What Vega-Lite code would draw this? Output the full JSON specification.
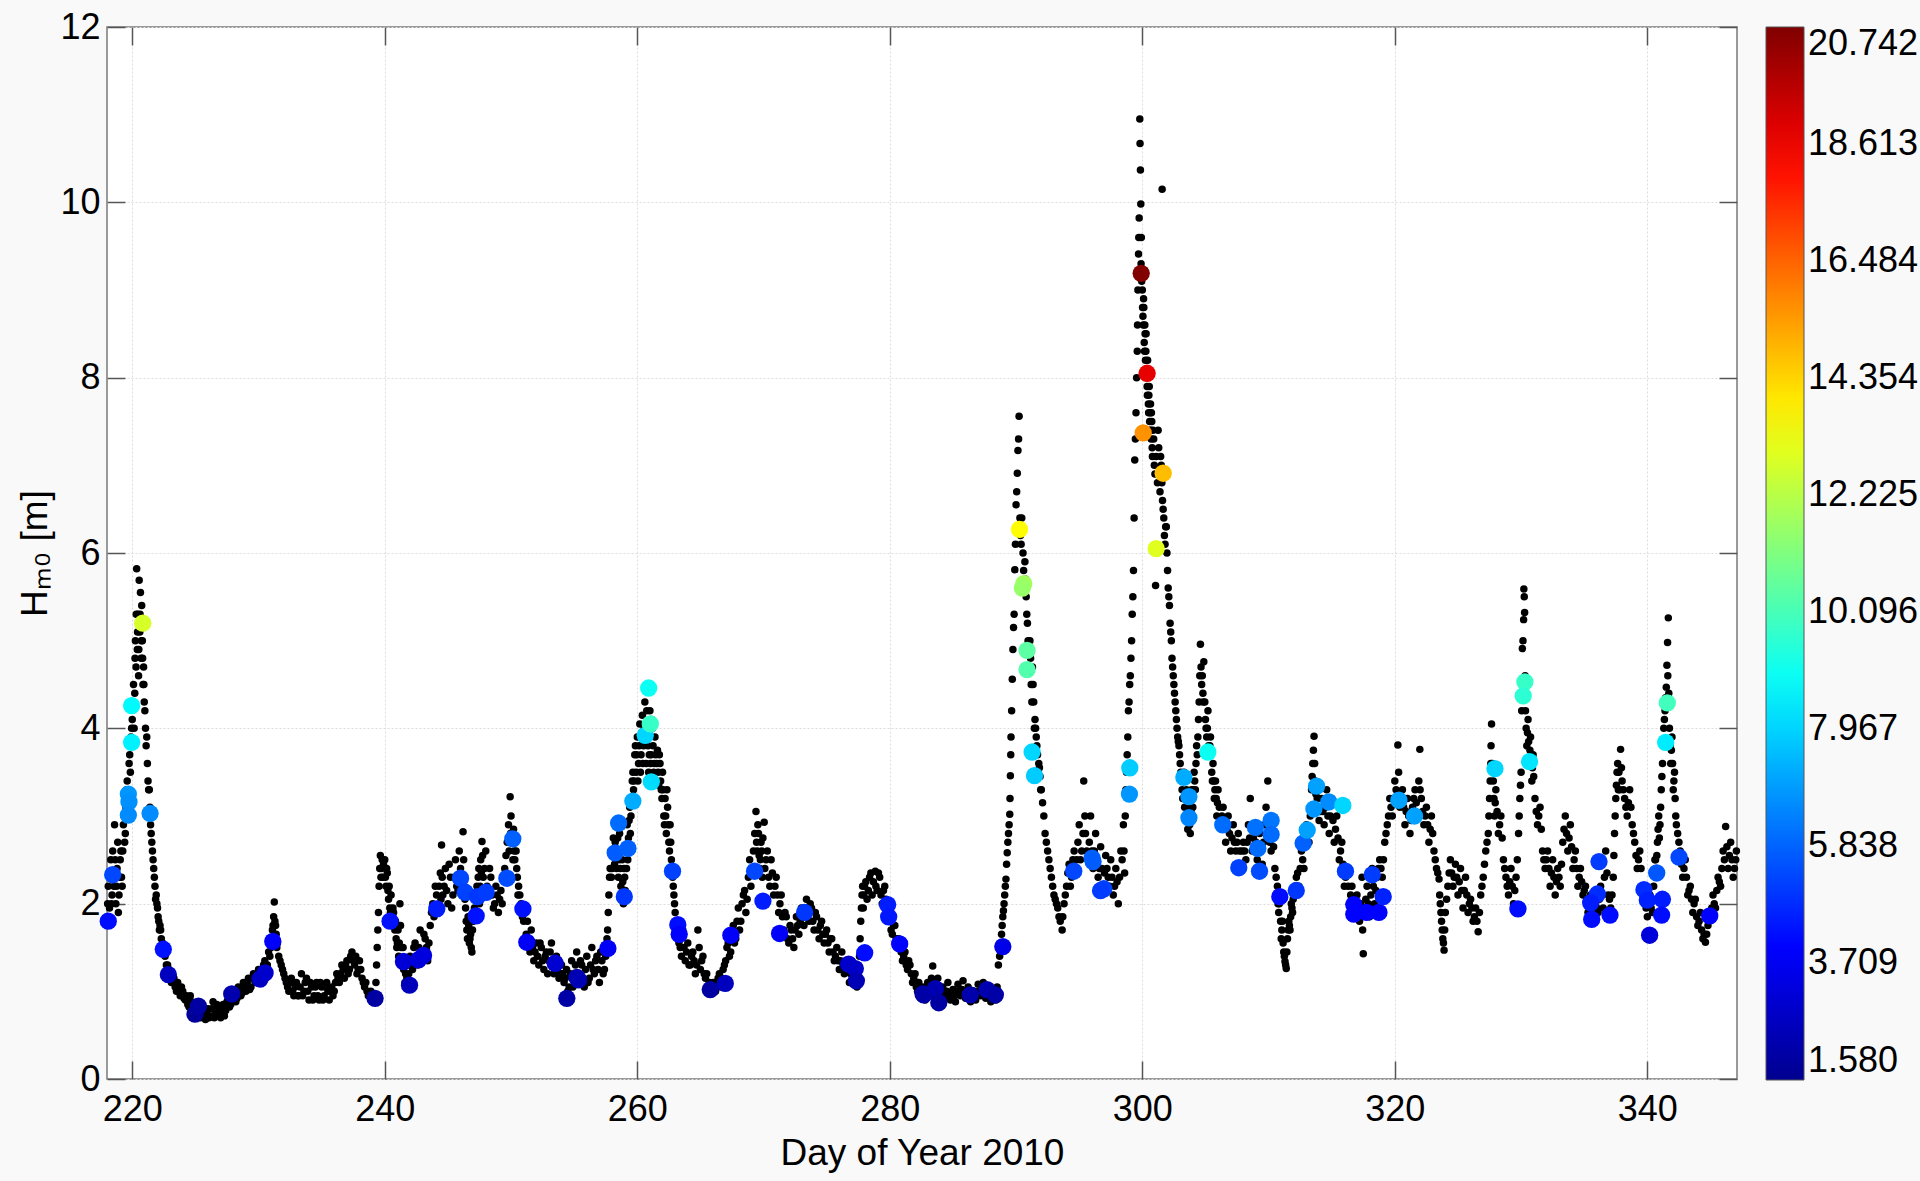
{
"$schema":"https://vega.github.io/schema/vega-lite/v6.json",
"width":1630,"height":1052,
"autosize":{"type":"none"},
"padding":{"left":107,"top":27,"right":183,"bottom":102},
"background":"#f9f9f9",
"config":{"view":{"fill":"white","stroke":"#7a7a7a","strokeWidth":1.5},"font":"Liberation Sans, Arial"},
"datasets":{
"hs":[
{"d":218.0,"h":1.85},{"d":218.1,"h":2.2},{"d":218.2,"h":1.95},{"d":218.3,"h":2.5},{"d":218.4,"h":2.1},{"d":218.5,"h":2.3},{"d":218.6,"h":2.9},{"d":218.7,"h":2.0},{"d":218.8,"h":2.4},{"d":218.9,"h":1.9},{"d":219.0,"h":2.3},{"d":219.1,"h":2.6},{"d":219.2,"h":2.2},{"d":219.3,"h":2.9},{"d":219.4,"h":2.7},{"d":219.5,"h":3.1},{"d":219.6,"h":3.4},{"d":219.7,"h":3.3},{"d":219.8,"h":3.7},{"d":219.9,"h":3.9},{"d":220.0,"h":4.1},{"d":220.1,"h":4.5},{"d":220.2,"h":4.4},{"d":220.25,"h":5.0},{"d":220.3,"h":4.7},{"d":220.35,"h":5.82},{"d":220.4,"h":4.9},{"d":220.45,"h":5.3},{"d":220.5,"h":4.6},{"d":220.55,"h":5.69},{"d":220.6,"h":5.1},{"d":220.65,"h":5.55},{"d":220.7,"h":4.8},{"d":220.75,"h":5.4},{"d":220.8,"h":5.0},{"d":220.85,"h":4.5},{"d":220.9,"h":4.7},{"d":220.95,"h":4.3},{"d":221.0,"h":4.2},{"d":221.1,"h":3.8},{"d":221.2,"h":3.6},{"d":221.3,"h":3.3},{"d":221.4,"h":3.1},{"d":221.5,"h":2.8},{"d":221.6,"h":2.6},{"d":221.7,"h":2.4},{"d":221.8,"h":2.2},{"d":221.9,"h":2.1},{"d":222.0,"h":1.95},{"d":222.1,"h":1.8},{"d":222.2,"h":1.75},{"d":222.3,"h":1.6},{"d":222.4,"h":1.55},{"d":222.6,"h":1.4},{"d":222.8,"h":1.3},{"d":223.0,"h":1.2},{"d":223.2,"h":1.15},{"d":223.4,"h":1.05},{"d":223.6,"h":1.1},{"d":223.8,"h":0.95},{"d":224.0,"h":1.0},{"d":224.2,"h":0.9},{"d":224.4,"h":0.85},{"d":224.6,"h":0.95},{"d":224.8,"h":0.8},{"d":225.0,"h":0.75},{"d":225.2,"h":0.85},{"d":225.4,"h":0.7},{"d":225.6,"h":0.78},{"d":225.8,"h":0.68},{"d":226.0,"h":0.8},{"d":226.2,"h":0.72},{"d":226.4,"h":0.88},{"d":226.6,"h":0.75},{"d":226.8,"h":0.82},{"d":227.0,"h":0.7},{"d":227.2,"h":0.85},{"d":227.4,"h":0.78},{"d":227.6,"h":0.92},{"d":227.8,"h":0.85},{"d":228.0,"h":0.95},{"d":228.2,"h":0.88},{"d":228.4,"h":1.05},{"d":228.6,"h":0.95},{"d":228.8,"h":1.1},{"d":229.0,"h":1.0},{"d":229.2,"h":1.15},{"d":229.4,"h":1.05},{"d":229.6,"h":1.2},{"d":229.8,"h":1.1},{"d":230.0,"h":1.25},{"d":230.2,"h":1.15},{"d":230.4,"h":1.3},{"d":230.6,"h":1.25},{"d":230.8,"h":1.45},{"d":231.0,"h":1.5},{"d":231.1,"h":1.7},{"d":231.2,"h":1.85},{"d":231.25,"h":2.02},{"d":231.3,"h":1.8},{"d":231.4,"h":1.65},{"d":231.5,"h":1.55},{"d":231.6,"h":1.4},{"d":231.8,"h":1.3},{"d":232.0,"h":1.2},{"d":232.2,"h":1.1},{"d":232.4,"h":1.0},{"d":232.6,"h":1.15},{"d":232.8,"h":0.95},{"d":233.0,"h":1.1},{"d":233.2,"h":0.95},{"d":233.4,"h":1.2},{"d":233.6,"h":1.0},{"d":233.8,"h":1.15},{"d":234.0,"h":0.9},{"d":234.2,"h":1.05},{"d":234.4,"h":0.95},{"d":234.6,"h":1.1},{"d":234.8,"h":0.9},{"d":235.0,"h":1.05},{"d":235.2,"h":0.95},{"d":235.4,"h":1.1},{"d":235.6,"h":0.9},{"d":235.8,"h":1.05},{"d":236.0,"h":1.0},{"d":236.2,"h":1.2},{"d":236.4,"h":1.1},{"d":236.6,"h":1.3},{"d":236.8,"h":1.15},{"d":237.0,"h":1.35},{"d":237.2,"h":1.25},{"d":237.4,"h":1.45},{"d":237.6,"h":1.3},{"d":237.8,"h":1.2},{"d":238.0,"h":1.35},{"d":238.2,"h":1.15},{"d":238.4,"h":1.05},{"d":238.6,"h":1.0},{"d":238.8,"h":0.95},{"d":239.0,"h":0.9},{"d":239.2,"h":0.95},{"d":239.35,"h":1.3},{"d":239.45,"h":1.7},{"d":239.55,"h":2.2},{"d":239.65,"h":2.55},{"d":239.75,"h":2.4},{"d":239.85,"h":2.3},{"d":240.0,"h":2.5},{"d":240.1,"h":2.2},{"d":240.2,"h":2.35},{"d":240.3,"h":2.05},{"d":240.4,"h":1.95},{"d":240.5,"h":2.1},{"d":240.6,"h":1.8},{"d":240.7,"h":1.9},{"d":240.8,"h":1.7},{"d":240.9,"h":1.6},{"d":241.0,"h":1.55},{"d":241.1,"h":1.4},{"d":241.2,"h":2.0},{"d":241.3,"h":1.5},{"d":241.4,"h":1.35},{"d":241.5,"h":1.25},{"d":241.6,"h":1.1},{"d":241.7,"h":1.3},{"d":241.8,"h":1.05},{"d":241.9,"h":1.2},{"d":242.0,"h":1.4},{"d":242.2,"h":1.25},{"d":242.4,"h":1.55},{"d":242.6,"h":1.3},{"d":242.8,"h":1.7},{"d":243.0,"h":1.45},{"d":243.2,"h":1.6},{"d":243.4,"h":1.35},{"d":243.6,"h":1.75},{"d":243.8,"h":2.0},{"d":244.0,"h":2.2},{"d":244.2,"h":1.95},{"d":244.4,"h":2.35},{"d":244.5,"h":2.67},{"d":244.6,"h":2.1},{"d":244.8,"h":2.4},{"d":245.0,"h":2.0},{"d":245.2,"h":2.3},{"d":245.4,"h":2.1},{"d":245.6,"h":2.5},{"d":245.8,"h":2.15},{"d":246.0,"h":2.4},{"d":246.2,"h":2.82},{"d":246.3,"h":2.2},{"d":246.4,"h":1.95},{"d":246.5,"h":1.7},{"d":246.6,"h":1.85},{"d":246.7,"h":1.55},{"d":246.8,"h":1.65},{"d":246.9,"h":1.45},{"d":247.0,"h":1.8},{"d":247.2,"h":2.1},{"d":247.4,"h":2.3},{"d":247.5,"h":2.0},{"d":247.6,"h":2.5},{"d":247.7,"h":2.71},{"d":247.8,"h":2.3},{"d":248.0,"h":2.6},{"d":248.2,"h":2.1},{"d":248.4,"h":2.3},{"d":248.6,"h":1.95},{"d":248.8,"h":2.2},{"d":249.0,"h":1.9},{"d":249.2,"h":2.15},{"d":249.4,"h":2.3},{"d":249.6,"h":2.55},{"d":249.8,"h":2.9},{"d":249.93,"h":3.22},{"d":250.0,"h":3.0},{"d":250.1,"h":2.7},{"d":250.2,"h":2.85},{"d":250.3,"h":2.5},{"d":250.4,"h":2.6},{"d":250.5,"h":2.3},{"d":250.6,"h":2.2},{"d":250.8,"h":2.0},{"d":251.0,"h":1.8},{"d":251.2,"h":1.65},{"d":251.4,"h":1.5},{"d":251.6,"h":1.7},{"d":251.8,"h":1.35},{"d":252.0,"h":1.55},{"d":252.2,"h":1.3},{"d":252.4,"h":1.5},{"d":252.6,"h":1.25},{"d":252.8,"h":1.45},{"d":253.0,"h":1.35},{"d":253.2,"h":1.55},{"d":253.4,"h":1.2},{"d":253.6,"h":1.4},{"d":253.8,"h":1.15},{"d":254.0,"h":1.3},{"d":254.2,"h":1.1},{"d":254.4,"h":1.25},{"d":254.6,"h":1.05},{"d":254.8,"h":1.35},{"d":255.0,"h":1.15},{"d":255.2,"h":1.45},{"d":255.4,"h":1.1},{"d":255.6,"h":1.3},{"d":255.8,"h":1.05},{"d":256.0,"h":1.4},{"d":256.2,"h":1.15},{"d":256.4,"h":1.5},{"d":256.6,"h":1.2},{"d":256.8,"h":1.4},{"d":257.0,"h":1.1},{"d":257.2,"h":1.35},{"d":257.4,"h":1.25},{"d":257.6,"h":1.6},{"d":257.7,"h":1.9},{"d":257.8,"h":2.3},{"d":257.9,"h":2.6},{"d":258.0,"h":2.4},{"d":258.1,"h":2.75},{"d":258.2,"h":2.45},{"d":258.3,"h":2.9},{"d":258.4,"h":2.6},{"d":258.5,"h":2.3},{"d":258.6,"h":2.8},{"d":258.7,"h":2.2},{"d":258.8,"h":2.5},{"d":258.9,"h":2.0},{"d":259.0,"h":2.3},{"d":259.1,"h":2.6},{"d":259.2,"h":2.9},{"d":259.3,"h":2.75},{"d":259.4,"h":3.1},{"d":259.5,"h":3.0},{"d":259.6,"h":3.4},{"d":259.7,"h":3.3},{"d":259.8,"h":3.7},{"d":259.9,"h":3.5},{"d":260.0,"h":3.9},{"d":260.1,"h":3.6},{"d":260.2,"h":4.05},{"d":260.3,"h":3.7},{"d":260.4,"h":4.15},{"d":260.5,"h":3.8},{"d":260.6,"h":4.3},{"d":260.7,"h":3.6},{"d":260.8,"h":4.0},{"d":260.9,"h":3.5},{"d":261.0,"h":4.2},{"d":261.1,"h":3.7},{"d":261.2,"h":4.0},{"d":261.3,"h":3.5},{"d":261.4,"h":3.9},{"d":261.5,"h":3.4},{"d":261.6,"h":3.75},{"d":261.7,"h":3.35},{"d":261.8,"h":3.6},{"d":261.9,"h":3.3},{"d":262.0,"h":3.5},{"d":262.1,"h":3.0},{"d":262.2,"h":3.2},{"d":262.3,"h":2.8},{"d":262.4,"h":3.1},{"d":262.5,"h":2.7},{"d":262.6,"h":2.9},{"d":262.7,"h":2.5},{"d":262.8,"h":2.3},{"d":262.9,"h":2.1},{"d":263.0,"h":1.9},{"d":263.1,"h":1.8},{"d":263.2,"h":1.6},{"d":263.4,"h":1.5},{"d":263.6,"h":1.7},{"d":263.8,"h":1.35},{"d":264.0,"h":1.55},{"d":264.2,"h":1.3},{"d":264.4,"h":1.45},{"d":264.6,"h":1.2},{"d":264.8,"h":1.7},{"d":265.0,"h":1.25},{"d":265.2,"h":1.4},{"d":265.4,"h":1.15},{"d":265.6,"h":1.05},{"d":265.8,"h":1.0},{"d":266.0,"h":1.1},{"d":266.2,"h":1.0},{"d":266.4,"h":1.15},{"d":266.6,"h":1.05},{"d":266.8,"h":1.25},{"d":267.0,"h":1.35},{"d":267.2,"h":1.55},{"d":267.4,"h":1.45},{"d":267.6,"h":1.75},{"d":267.8,"h":1.6},{"d":268.0,"h":1.95},{"d":268.2,"h":1.8},{"d":268.4,"h":2.1},{"d":268.6,"h":1.9},{"d":268.8,"h":2.3},{"d":269.0,"h":2.2},{"d":269.2,"h":2.6},{"d":269.4,"h":3.05},{"d":269.5,"h":2.6},{"d":269.6,"h":2.8},{"d":269.7,"h":2.4},{"d":269.8,"h":2.7},{"d":269.9,"h":2.3},{"d":270.05,"h":2.93},{"d":270.2,"h":2.5},{"d":270.4,"h":2.3},{"d":270.6,"h":2.5},{"d":270.8,"h":2.1},{"d":271.0,"h":2.3},{"d":271.2,"h":1.9},{"d":271.4,"h":2.1},{"d":271.6,"h":1.7},{"d":271.8,"h":1.85},{"d":272.0,"h":1.55},{"d":272.2,"h":1.7},{"d":272.4,"h":1.5},{"d":272.6,"h":1.85},{"d":272.8,"h":1.65},{"d":273.0,"h":1.95},{"d":273.2,"h":1.75},{"d":273.4,"h":2.05},{"d":273.6,"h":1.8},{"d":273.8,"h":1.95},{"d":274.0,"h":1.7},{"d":274.2,"h":1.85},{"d":274.4,"h":1.6},{"d":274.6,"h":1.8},{"d":274.8,"h":1.55},{"d":275.0,"h":1.7},{"d":275.2,"h":1.45},{"d":275.4,"h":1.6},{"d":275.6,"h":1.35},{"d":275.8,"h":1.5},{"d":276.0,"h":1.25},{"d":276.2,"h":1.45},{"d":276.4,"h":1.2},{"d":276.6,"h":1.35},{"d":276.8,"h":1.1},{"d":277.0,"h":1.3},{"d":277.2,"h":1.15},{"d":277.4,"h":1.05},{"d":277.6,"h":1.4},{"d":277.7,"h":1.8},{"d":277.8,"h":2.1},{"d":277.9,"h":1.95},{"d":278.0,"h":2.2},{"d":278.2,"h":2.05},{"d":278.4,"h":2.3},{"d":278.6,"h":2.1},{"d":278.85,"h":2.37},{"d":279.0,"h":2.15},{"d":279.2,"h":2.3},{"d":279.4,"h":2.0},{"d":279.6,"h":2.2},{"d":279.8,"h":1.9},{"d":280.0,"h":1.8},{"d":280.2,"h":1.65},{"d":280.4,"h":1.75},{"d":280.6,"h":1.5},{"d":280.8,"h":1.55},{"d":281.0,"h":1.35},{"d":281.2,"h":1.45},{"d":281.4,"h":1.25},{"d":281.6,"h":1.3},{"d":281.8,"h":1.1},{"d":282.0,"h":1.2},{"d":282.2,"h":1.0},{"d":282.4,"h":0.95},{"d":282.6,"h":1.05},{"d":282.8,"h":0.9},{"d":283.0,"h":1.1},{"d":283.2,"h":0.95},{"d":283.4,"h":1.29},{"d":283.6,"h":1.0},{"d":283.8,"h":1.15},{"d":284.0,"h":0.88},{"d":284.2,"h":1.05},{"d":284.4,"h":0.92},{"d":284.6,"h":1.1},{"d":284.8,"h":0.9},{"d":285.0,"h":1.02},{"d":285.2,"h":0.88},{"d":285.4,"h":1.08},{"d":285.6,"h":0.95},{"d":285.8,"h":1.12},{"d":286.0,"h":0.92},{"d":286.2,"h":1.05},{"d":286.4,"h":0.88},{"d":286.6,"h":1.0},{"d":286.8,"h":0.9},{"d":287.0,"h":1.08},{"d":287.2,"h":0.95},{"d":287.4,"h":1.1},{"d":287.6,"h":0.92},{"d":287.8,"h":1.05},{"d":288.0,"h":0.88},{"d":288.2,"h":1.0},{"d":288.4,"h":0.9},{"d":288.6,"h":1.3},{"d":288.8,"h":1.55},{"d":288.9,"h":1.75},{"d":289.0,"h":1.92},{"d":289.1,"h":2.1},{"d":289.2,"h":2.28},{"d":289.3,"h":2.58},{"d":289.4,"h":2.8},{"d":289.5,"h":3.02},{"d":289.55,"h":3.46},{"d":289.6,"h":3.9},{"d":289.7,"h":4.56},{"d":289.8,"h":5.15},{"d":289.85,"h":5.3},{"d":289.9,"h":5.81},{"d":290.0,"h":6.55},{"d":290.1,"h":6.91},{"d":290.15,"h":7.17},{"d":290.24,"h":7.56},{"d":290.3,"h":6.4},{"d":290.4,"h":6.1},{"d":290.5,"h":6.3},{"d":290.6,"h":5.8},{"d":290.7,"h":5.9},{"d":290.8,"h":5.5},{"d":290.9,"h":5.2},{"d":291.0,"h":4.9},{"d":291.1,"h":5.0},{"d":291.2,"h":4.5},{"d":291.3,"h":4.7},{"d":291.4,"h":4.3},{"d":291.5,"h":4.1},{"d":291.6,"h":3.9},{"d":291.7,"h":3.7},{"d":291.8,"h":3.6},{"d":291.9,"h":3.45},{"d":292.0,"h":3.3},{"d":292.2,"h":3.0},{"d":292.4,"h":2.7},{"d":292.6,"h":2.5},{"d":292.8,"h":2.3},{"d":293.0,"h":2.1},{"d":293.2,"h":2.0},{"d":293.4,"h":1.85},{"d":293.65,"h":1.7},{"d":293.8,"h":2.0},{"d":294.0,"h":2.2},{"d":294.2,"h":2.45},{"d":294.4,"h":2.3},{"d":294.6,"h":2.6},{"d":294.8,"h":2.5},{"d":295.0,"h":2.9},{"d":295.2,"h":2.6},{"d":295.36,"h":3.4},{"d":295.5,"h":2.8},{"d":295.7,"h":2.5},{"d":295.9,"h":3.0},{"d":296.1,"h":2.4},{"d":296.3,"h":2.8},{"d":296.5,"h":2.3},{"d":296.7,"h":2.65},{"d":296.9,"h":2.2},{"d":297.1,"h":2.55},{"d":297.3,"h":2.3},{"d":297.5,"h":2.5},{"d":297.7,"h":2.1},{"d":297.9,"h":2.4},{"d":298.1,"h":2.0},{"d":298.3,"h":2.6},{"d":298.5,"h":2.9},{"d":298.6,"h":2.35},{"d":298.7,"h":3.3},{"d":298.8,"h":3.7},{"d":298.9,"h":4.2},{"d":299.0,"h":4.5},{"d":299.1,"h":4.8},{"d":299.2,"h":5.3},{"d":299.3,"h":5.8},{"d":299.35,"h":6.4},{"d":299.4,"h":7.06},{"d":299.5,"h":7.6},{"d":299.6,"h":8.3},{"d":299.65,"h":9.0},{"d":299.7,"h":9.41},{"d":299.75,"h":9.82},{"d":299.8,"h":10.95},{"d":299.82,"h":10.67},{"d":299.85,"h":10.37},{"d":299.88,"h":9.98},{"d":299.92,"h":9.6},{"d":300.0,"h":9.0},{"d":300.05,"h":8.7},{"d":300.1,"h":8.9},{"d":300.15,"h":8.4},{"d":300.2,"h":8.6},{"d":300.25,"h":8.2},{"d":300.3,"h":8.5},{"d":300.35,"h":8.0},{"d":300.4,"h":7.8},{"d":300.45,"h":8.1},{"d":300.5,"h":7.6},{"d":300.55,"h":7.9},{"d":300.6,"h":7.4},{"d":300.65,"h":7.7},{"d":300.7,"h":7.3},{"d":300.75,"h":7.5},{"d":300.8,"h":7.1},{"d":300.9,"h":7.3},{"d":301.0,"h":6.9},{"d":301.05,"h":5.63},{"d":301.1,"h":7.1},{"d":301.2,"h":6.8},{"d":301.3,"h":7.2},{"d":301.4,"h":6.7},{"d":301.5,"h":7.0},{"d":301.57,"h":10.15},{"d":301.6,"h":6.6},{"d":301.7,"h":6.4},{"d":301.8,"h":6.1},{"d":301.9,"h":6.3},{"d":302.0,"h":5.8},{"d":302.1,"h":5.5},{"d":302.2,"h":5.2},{"d":302.3,"h":5.0},{"d":302.4,"h":4.7},{"d":302.5,"h":4.5},{"d":302.6,"h":4.3},{"d":302.7,"h":4.1},{"d":302.8,"h":3.9},{"d":302.9,"h":3.8},{"d":303.0,"h":3.6},{"d":303.1,"h":3.4},{"d":303.2,"h":3.2},{"d":303.3,"h":3.5},{"d":303.4,"h":3.0},{"d":303.5,"h":3.3},{"d":303.6,"h":2.85},{"d":303.7,"h":3.1},{"d":303.8,"h":2.8},{"d":303.9,"h":3.3},{"d":304.0,"h":3.1},{"d":304.1,"h":3.5},{"d":304.2,"h":3.3},{"d":304.3,"h":3.8},{"d":304.4,"h":3.9},{"d":304.5,"h":4.3},{"d":304.6,"h":4.96},{"d":304.7,"h":4.5},{"d":304.8,"h":4.4},{"d":304.87,"h":4.76},{"d":305.0,"h":4.1},{"d":305.1,"h":3.9},{"d":305.2,"h":4.2},{"d":305.3,"h":3.7},{"d":305.4,"h":3.9},{"d":305.5,"h":3.5},{"d":305.6,"h":3.6},{"d":305.7,"h":3.2},{"d":305.8,"h":3.4},{"d":305.9,"h":3.0},{"d":306.0,"h":3.3},{"d":306.2,"h":2.9},{"d":306.4,"h":3.1},{"d":306.6,"h":2.7},{"d":306.8,"h":3.0},{"d":307.0,"h":2.6},{"d":307.2,"h":2.9},{"d":307.4,"h":2.6},{"d":307.6,"h":2.8},{"d":307.8,"h":2.45},{"d":308.0,"h":2.7},{"d":308.2,"h":2.5},{"d":308.4,"h":2.9},{"d":308.55,"h":3.2},{"d":308.7,"h":2.6},{"d":308.9,"h":2.9},{"d":309.1,"h":2.5},{"d":309.3,"h":2.8},{"d":309.5,"h":2.45},{"d":309.7,"h":2.9},{"d":309.94,"h":3.4},{"d":310.1,"h":2.7},{"d":310.3,"h":2.9},{"d":310.5,"h":2.4},{"d":310.7,"h":2.2},{"d":310.8,"h":1.9},{"d":310.9,"h":2.1},{"d":311.0,"h":1.6},{"d":311.1,"h":1.8},{"d":311.2,"h":1.45},{"d":311.3,"h":1.34},{"d":311.4,"h":1.26},{"d":311.5,"h":1.6},{"d":311.6,"h":1.8},{"d":311.7,"h":1.7},{"d":311.8,"h":2.0},{"d":311.9,"h":1.9},{"d":312.0,"h":2.15},{"d":312.2,"h":2.3},{"d":312.4,"h":2.2},{"d":312.6,"h":2.6},{"d":312.8,"h":2.4},{"d":313.0,"h":2.9},{"d":313.2,"h":2.7},{"d":313.4,"h":3.3},{"d":313.5,"h":3.6},{"d":313.6,"h":3.91},{"d":313.7,"h":3.4},{"d":313.8,"h":3.1},{"d":313.9,"h":3.3},{"d":314.0,"h":2.95},{"d":314.2,"h":3.2},{"d":314.4,"h":2.9},{"d":314.6,"h":3.3},{"d":314.8,"h":2.8},{"d":315.0,"h":3.2},{"d":315.2,"h":2.7},{"d":315.4,"h":3.0},{"d":315.6,"h":2.5},{"d":315.8,"h":2.7},{"d":316.0,"h":2.2},{"d":316.2,"h":2.4},{"d":316.4,"h":2.0},{"d":316.6,"h":2.2},{"d":316.8,"h":1.85},{"d":317.0,"h":2.1},{"d":317.2,"h":1.8},{"d":317.4,"h":2.3},{"d":317.5,"h":1.43},{"d":317.6,"h":1.95},{"d":317.8,"h":2.2},{"d":318.0,"h":1.85},{"d":318.2,"h":2.4},{"d":318.4,"h":2.0},{"d":318.6,"h":2.3},{"d":318.8,"h":2.5},{"d":319.0,"h":2.3},{"d":319.2,"h":2.7},{"d":319.4,"h":2.9},{"d":319.6,"h":3.2},{"d":319.8,"h":3.0},{"d":320.0,"h":3.4},{"d":320.24,"h":3.81},{"d":320.4,"h":3.1},{"d":320.6,"h":3.3},{"d":320.8,"h":2.9},{"d":321.0,"h":3.2},{"d":321.2,"h":2.8},{"d":321.4,"h":3.1},{"d":321.6,"h":3.3},{"d":321.8,"h":3.0},{"d":321.98,"h":3.76},{"d":322.1,"h":3.2},{"d":322.3,"h":2.9},{"d":322.5,"h":3.1},{"d":322.7,"h":2.7},{"d":322.9,"h":3.0},{"d":323.1,"h":2.6},{"d":323.3,"h":2.4},{"d":323.5,"h":2.28},{"d":323.6,"h":2.0},{"d":323.7,"h":1.8},{"d":323.8,"h":1.6},{"d":323.9,"h":1.47},{"d":324.0,"h":1.9},{"d":324.2,"h":2.2},{"d":324.4,"h":2.5},{"d":324.6,"h":2.2},{"d":324.8,"h":2.45},{"d":325.0,"h":2.1},{"d":325.2,"h":2.4},{"d":325.4,"h":1.95},{"d":325.6,"h":2.3},{"d":325.8,"h":1.9},{"d":326.0,"h":2.05},{"d":326.2,"h":1.8},{"d":326.4,"h":1.95},{"d":326.6,"h":1.68},{"d":326.8,"h":2.1},{"d":327.0,"h":2.3},{"d":327.2,"h":2.6},{"d":327.4,"h":2.8},{"d":327.5,"h":3.2},{"d":327.6,"h":3.6},{"d":327.66,"h":4.05},{"d":327.8,"h":3.4},{"d":327.9,"h":3.0},{"d":328.0,"h":3.3},{"d":328.2,"h":2.8},{"d":328.4,"h":3.0},{"d":328.6,"h":2.5},{"d":328.8,"h":2.3},{"d":329.0,"h":2.1},{"d":329.2,"h":2.4},{"d":329.4,"h":2.0},{"d":329.6,"h":2.3},{"d":329.8,"h":2.8},{"d":329.9,"h":3.2},{"d":330.0,"h":3.5},{"d":330.1,"h":4.91},{"d":330.2,"h":5.24},{"d":330.22,"h":5.59},{"d":330.25,"h":5.5},{"d":330.28,"h":5.32},{"d":330.35,"h":4.2},{"d":330.45,"h":3.8},{"d":330.55,"h":4.1},{"d":330.65,"h":3.6},{"d":330.75,"h":3.9},{"d":330.85,"h":3.4},{"d":330.95,"h":3.7},{"d":331.1,"h":3.2},{"d":331.3,"h":2.9},{"d":331.5,"h":3.1},{"d":331.7,"h":2.6},{"d":331.9,"h":2.4},{"d":332.1,"h":2.6},{"d":332.3,"h":2.2},{"d":332.5,"h":2.5},{"d":332.7,"h":2.1},{"d":332.9,"h":2.4},{"d":333.1,"h":2.2},{"d":333.3,"h":2.7},{"d":333.5,"h":3.0},{"d":333.7,"h":2.6},{"d":333.9,"h":2.9},{"d":334.1,"h":2.4},{"d":334.3,"h":2.6},{"d":334.5,"h":2.2},{"d":334.7,"h":2.4},{"d":334.9,"h":2.1},{"d":335.1,"h":2.2},{"d":335.3,"h":1.9},{"d":335.5,"h":2.1},{"d":335.7,"h":1.85},{"d":335.9,"h":2.0},{"d":336.1,"h":1.9},{"d":336.3,"h":2.2},{"d":336.5,"h":1.95},{"d":336.7,"h":2.6},{"d":336.9,"h":2.1},{"d":337.1,"h":1.95},{"d":337.3,"h":2.3},{"d":337.4,"h":2.8},{"d":337.5,"h":3.2},{"d":337.6,"h":3.5},{"d":337.7,"h":3.3},{"d":337.88,"h":3.76},{"d":338.0,"h":3.4},{"d":338.2,"h":3.2},{"d":338.4,"h":3.0},{"d":338.6,"h":3.3},{"d":338.8,"h":2.9},{"d":339.0,"h":2.7},{"d":339.2,"h":2.4},{"d":339.4,"h":2.6},{"d":339.6,"h":2.2},{"d":339.8,"h":2.0},{"d":340.0,"h":1.85},{"d":340.2,"h":2.1},{"d":340.4,"h":1.9},{"d":340.6,"h":2.5},{"d":340.7,"h":2.4},{"d":340.8,"h":2.7},{"d":340.9,"h":3.0},{"d":341.0,"h":2.9},{"d":341.1,"h":3.3},{"d":341.2,"h":3.6},{"d":341.3,"h":4.0},{"d":341.4,"h":4.2},{"d":341.5,"h":4.47},{"d":341.55,"h":4.72},{"d":341.6,"h":4.98},{"d":341.66,"h":5.26},{"d":341.75,"h":4.0},{"d":341.85,"h":3.6},{"d":341.95,"h":3.9},{"d":342.05,"h":3.3},{"d":342.15,"h":3.5},{"d":342.25,"h":3.0},{"d":342.4,"h":2.8},{"d":342.6,"h":2.6},{"d":342.8,"h":2.3},{"d":343.0,"h":2.5},{"d":343.2,"h":2.1},{"d":343.4,"h":2.2},{"d":343.6,"h":1.9},{"d":343.8,"h":2.05},{"d":344.0,"h":1.75},{"d":344.2,"h":1.9},{"d":344.4,"h":1.6},{"d":344.6,"h":1.56},{"d":344.8,"h":1.75},{"d":345.0,"h":1.9},{"d":345.2,"h":2.1},{"d":345.4,"h":1.95},{"d":345.6,"h":2.3},{"d":345.8,"h":2.2},{"d":346.0,"h":2.6},{"d":346.2,"h":2.88},{"d":346.4,"h":2.4},{"d":346.6,"h":2.7},{"d":346.8,"h":2.3},{"d":347.0,"h":2.5},
{"d":218.05,"h":2.0},{"d":218.15,"h":1.8},{"d":218.25,"h":2.3},{"d":218.35,"h":2.0},{"d":218.45,"h":2.6},{"d":218.55,"h":2.2},{"d":218.65,"h":2.5},{"d":218.75,"h":2.2},{"d":218.85,"h":2.7},{"d":218.95,"h":2.1},{"d":219.05,"h":2.5},{"d":219.15,"h":2.3},{"d":219.25,"h":2.6},{"d":219.35,"h":3.0},{"d":219.45,"h":2.8},{"d":219.55,"h":3.3},{"d":219.65,"h":3.0},{"d":219.75,"h":3.6},{"d":219.85,"h":3.5},{"d":219.95,"h":4.0},{"d":220.05,"h":4.3},{"d":220.15,"h":4.0},{"d":220.22,"h":4.8},{"d":220.32,"h":5.3},{"d":220.42,"h":5.1},{"d":220.52,"h":4.9},{"d":220.62,"h":5.3},{"d":220.72,"h":5.0},{"d":220.82,"h":4.8},{"d":220.92,"h":4.5},{"d":221.05,"h":4.0},{"d":221.15,"h":3.9},{"d":221.25,"h":3.4},{"d":221.35,"h":3.3},{"d":221.45,"h":2.9},{"d":221.55,"h":2.7},{"d":221.65,"h":2.5},{"d":221.75,"h":2.3},{"d":221.85,"h":2.05},{"d":221.95,"h":2.0},{"d":222.05,"h":1.85},{"d":222.15,"h":1.7},{"d":222.25,"h":1.7},{"d":222.35,"h":1.5},{"d":222.5,"h":1.5},{"d":222.7,"h":1.3},{"d":222.9,"h":1.25},{"d":223.1,"h":1.1},{"d":223.3,"h":1.15},{"d":223.5,"h":1.0},{"d":223.7,"h":1.0},{"d":223.9,"h":1.05},{"d":224.1,"h":0.92},{"d":224.3,"h":0.95},{"d":224.5,"h":0.82},{"d":224.7,"h":0.88},{"d":224.9,"h":0.78},{"d":225.1,"h":0.8},{"d":225.3,"h":0.72},{"d":225.5,"h":0.82},{"d":225.7,"h":0.72},{"d":225.9,"h":0.75},{"d":226.1,"h":0.7},{"d":226.3,"h":0.8},{"d":226.5,"h":0.7},{"d":226.7,"h":0.85},{"d":226.9,"h":0.76},{"d":227.1,"h":0.8},{"d":227.3,"h":0.72},{"d":227.5,"h":0.88},{"d":227.7,"h":0.82},{"d":227.9,"h":0.9},{"d":228.1,"h":0.98},{"d":228.3,"h":0.92},{"d":228.5,"h":1.0},{"d":228.7,"h":0.98},{"d":228.9,"h":1.05},{"d":229.1,"h":1.1},{"d":229.3,"h":1.02},{"d":229.5,"h":1.15},{"d":229.7,"h":1.12},{"d":229.9,"h":1.2},{"d":230.1,"h":1.18},{"d":230.3,"h":1.25},{"d":230.5,"h":1.35},{"d":230.7,"h":1.3},{"d":230.9,"h":1.4},{"d":231.05,"h":1.6},{"d":231.15,"h":1.75},{"d":231.35,"h":1.75},{"d":231.45,"h":1.5},{"d":231.7,"h":1.35},{"d":231.9,"h":1.25},{"d":232.1,"h":1.15},{"d":232.3,"h":1.05},{"d":232.5,"h":1.1},{"d":232.7,"h":1.0},{"d":232.9,"h":1.05},{"d":233.1,"h":0.95},{"d":233.3,"h":1.05},{"d":233.5,"h":0.95},{"d":233.7,"h":1.1},{"d":233.9,"h":1.0},{"d":234.1,"h":1.1},{"d":234.3,"h":0.9},{"d":234.5,"h":1.05},{"d":234.7,"h":0.95},{"d":234.9,"h":1.1},{"d":235.1,"h":0.9},{"d":235.3,"h":1.05},{"d":235.5,"h":1.0},{"d":235.7,"h":1.0},{"d":235.9,"h":0.95},{"d":236.1,"h":1.1},{"d":236.3,"h":1.15},{"d":236.5,"h":1.2},{"d":236.7,"h":1.25},{"d":236.9,"h":1.3},{"d":237.1,"h":1.2},{"d":237.3,"h":1.4},{"d":237.5,"h":1.35},{"d":237.7,"h":1.4},{"d":237.9,"h":1.25},{"d":238.1,"h":1.25},{"d":238.3,"h":1.1},{"d":238.5,"h":1.1},{"d":238.7,"h":0.95},{"d":238.9,"h":1.0},{"d":239.1,"h":0.88},{"d":239.3,"h":1.1},{"d":239.4,"h":1.5},{"d":239.5,"h":1.9},{"d":239.6,"h":2.4},{"d":239.7,"h":2.3},{"d":239.8,"h":2.5},{"d":239.9,"h":2.45},{"d":240.05,"h":2.3},{"d":240.15,"h":2.4},{"d":240.25,"h":2.15},{"d":240.35,"h":2.2},{"d":240.45,"h":1.9},{"d":240.55,"h":1.85},{"d":240.65,"h":1.95},{"d":240.75,"h":1.75},{"d":240.85,"h":1.8},{"d":240.95,"h":1.5},{"d":241.05,"h":1.7},{"d":241.15,"h":1.55},{"d":241.25,"h":1.75},{"d":241.35,"h":1.3},{"d":241.45,"h":1.5},{"d":241.55,"h":1.35},{"d":241.65,"h":1.2},{"d":241.75,"h":1.15},{"d":241.85,"h":1.3},{"d":241.95,"h":1.1},{"d":242.1,"h":1.3},{"d":242.3,"h":1.5},{"d":242.5,"h":1.35},{"d":242.7,"h":1.5},{"d":242.9,"h":1.4},{"d":243.1,"h":1.65},{"d":243.3,"h":1.5},{"d":243.5,"h":1.55},{"d":243.7,"h":1.9},{"d":243.9,"h":1.85},{"d":244.1,"h":2.1},{"d":244.3,"h":2.2},{"d":244.45,"h":2.05},{"d":244.55,"h":2.3},{"d":244.7,"h":2.2},{"d":244.9,"h":2.15},{"d":245.1,"h":2.45},{"d":245.3,"h":1.95},{"d":245.5,"h":2.3},{"d":245.7,"h":2.2},{"d":245.9,"h":2.6},{"d":246.1,"h":2.2},{"d":246.25,"h":2.5},{"d":246.35,"h":2.05},{"d":246.45,"h":1.8},{"d":246.55,"h":1.6},{"d":246.65,"h":1.75},{"d":246.75,"h":1.6},{"d":246.85,"h":1.5},{"d":246.95,"h":1.7},{"d":247.1,"h":1.95},{"d":247.3,"h":2.2},{"d":247.45,"h":2.4},{"d":247.55,"h":2.2},{"d":247.65,"h":2.35},{"d":247.75,"h":2.55},{"d":247.9,"h":2.4},{"d":248.1,"h":2.2},{"d":248.3,"h":2.4},{"d":248.5,"h":2.1},{"d":248.7,"h":2.0},{"d":248.9,"h":2.1},{"d":249.1,"h":2.05},{"d":249.3,"h":2.0},{"d":249.5,"h":2.4},{"d":249.7,"h":2.7},{"d":249.85,"h":2.6},{"d":249.97,"h":2.8},{"d":250.05,"h":2.8},{"d":250.15,"h":2.5},{"d":250.25,"h":2.6},{"d":250.35,"h":2.7},{"d":250.45,"h":2.4},{"d":250.55,"h":2.1},{"d":250.7,"h":2.1},{"d":250.9,"h":1.85},{"d":251.1,"h":1.6},{"d":251.3,"h":1.8},{"d":251.5,"h":1.45},{"d":251.7,"h":1.5},{"d":251.9,"h":1.45},{"d":252.1,"h":1.4},{"d":252.3,"h":1.55},{"d":252.5,"h":1.35},{"d":252.7,"h":1.4},{"d":252.9,"h":1.2},{"d":253.1,"h":1.45},{"d":253.3,"h":1.3},{"d":253.5,"h":1.25},{"d":253.7,"h":1.3},{"d":253.9,"h":1.2},{"d":254.1,"h":1.2},{"d":254.3,"h":1.15},{"d":254.5,"h":1.0},{"d":254.7,"h":1.2},{"d":254.9,"h":1.05},{"d":255.1,"h":1.3},{"d":255.3,"h":1.2},{"d":255.5,"h":1.35},{"d":255.7,"h":1.15},{"d":255.9,"h":1.25},{"d":256.1,"h":1.1},{"d":256.3,"h":1.3},{"d":256.5,"h":1.25},{"d":256.7,"h":1.35},{"d":256.9,"h":1.25},{"d":257.1,"h":1.45},{"d":257.3,"h":1.2},{"d":257.5,"h":1.4},{"d":257.65,"h":1.7},{"d":257.75,"h":2.1},{"d":257.85,"h":2.4},{"d":257.95,"h":2.3},{"d":258.05,"h":2.55},{"d":258.15,"h":2.6},{"d":258.25,"h":2.7},{"d":258.35,"h":2.4},{"d":258.45,"h":2.75},{"d":258.55,"h":2.5},{"d":258.65,"h":2.4},{"d":258.75,"h":2.6},{"d":258.85,"h":2.25},{"d":258.95,"h":2.4},{"d":259.05,"h":2.15},{"d":259.15,"h":2.4},{"d":259.25,"h":2.5},{"d":259.35,"h":2.95},{"d":259.45,"h":2.8},{"d":259.55,"h":3.2},{"d":259.65,"h":3.5},{"d":259.75,"h":3.4},{"d":259.85,"h":3.8},{"d":259.95,"h":3.7},{"d":260.05,"h":3.4},{"d":260.15,"h":3.8},{"d":260.25,"h":3.5},{"d":260.35,"h":3.95},{"d":260.45,"h":3.6},{"d":260.55,"h":4.0},{"d":260.65,"h":3.9},{"d":260.75,"h":4.2},{"d":260.85,"h":3.8},{"d":260.95,"h":3.7},{"d":261.05,"h":3.6},{"d":261.15,"h":4.1},{"d":261.25,"h":3.8},{"d":261.35,"h":3.6},{"d":261.45,"h":3.7},{"d":261.55,"h":3.6},{"d":261.65,"h":3.5},{"d":261.75,"h":3.7},{"d":261.85,"h":3.4},{"d":261.95,"h":3.2},{"d":262.05,"h":3.3},{"d":262.15,"h":2.9},{"d":262.25,"h":3.0},{"d":262.35,"h":3.3},{"d":262.45,"h":2.9},{"d":262.55,"h":2.6},{"d":262.65,"h":2.7},{"d":262.75,"h":2.4},{"d":262.85,"h":2.2},{"d":262.95,"h":2.0},{"d":263.05,"h":1.75},{"d":263.15,"h":1.7},{"d":263.3,"h":1.55},{"d":263.5,"h":1.4},{"d":263.7,"h":1.5},{"d":263.9,"h":1.45},{"d":264.1,"h":1.3},{"d":264.3,"h":1.4},{"d":264.5,"h":1.35},{"d":264.7,"h":1.3},{"d":264.9,"h":1.5},{"d":265.1,"h":1.35},{"d":265.3,"h":1.2},{"d":265.5,"h":1.2},{"d":265.7,"h":1.1},{"d":265.9,"h":1.05},{"d":266.1,"h":1.05},{"d":266.3,"h":1.1},{"d":266.5,"h":1.2},{"d":266.7,"h":1.15},{"d":266.9,"h":1.3},{"d":267.1,"h":1.5},{"d":267.3,"h":1.4},{"d":267.5,"h":1.65},{"d":267.7,"h":1.55},{"d":267.9,"h":1.8},{"d":268.1,"h":1.7},{"d":268.3,"h":2.0},{"d":268.5,"h":2.15},{"d":268.7,"h":2.05},{"d":268.9,"h":2.5},{"d":269.1,"h":2.4},{"d":269.3,"h":2.8},{"d":269.45,"h":2.7},{"d":269.55,"h":2.9},{"d":269.65,"h":2.55},{"d":269.75,"h":2.5},{"d":269.85,"h":2.6},{"d":269.95,"h":2.75},{"d":270.1,"h":2.4},{"d":270.3,"h":2.6},{"d":270.5,"h":2.2},{"d":270.7,"h":2.35},{"d":270.9,"h":2.2},{"d":271.1,"h":2.1},{"d":271.3,"h":2.0},{"d":271.5,"h":1.85},{"d":271.7,"h":1.9},{"d":271.9,"h":1.6},{"d":272.1,"h":1.75},{"d":272.3,"h":1.6},{"d":272.5,"h":1.7},{"d":272.7,"h":1.75},{"d":272.9,"h":1.8},{"d":273.1,"h":1.85},{"d":273.3,"h":1.95},{"d":273.5,"h":1.85},{"d":273.7,"h":2.0},{"d":273.9,"h":1.8},{"d":274.1,"h":1.9},{"d":274.3,"h":1.7},{"d":274.5,"h":1.75},{"d":274.7,"h":1.65},{"d":274.9,"h":1.65},{"d":275.1,"h":1.55},{"d":275.3,"h":1.6},{"d":275.5,"h":1.45},{"d":275.7,"h":1.4},{"d":275.9,"h":1.35},{"d":276.1,"h":1.35},{"d":276.3,"h":1.3},{"d":276.5,"h":1.25},{"d":276.7,"h":1.25},{"d":276.9,"h":1.2},{"d":277.1,"h":1.2},{"d":277.3,"h":1.1},{"d":277.5,"h":1.25},{"d":277.65,"h":1.6},{"d":277.75,"h":1.95},{"d":277.85,"h":2.2},{"d":277.95,"h":2.1},{"d":278.1,"h":2.25},{"d":278.3,"h":2.15},{"d":278.5,"h":2.35},{"d":278.7,"h":2.25},{"d":278.9,"h":2.2},{"d":279.1,"h":2.35},{"d":279.3,"h":2.1},{"d":279.5,"h":2.15},{"d":279.7,"h":2.05},{"d":279.9,"h":1.95},{"d":280.1,"h":1.7},{"d":280.3,"h":1.75},{"d":280.5,"h":1.6},{"d":280.7,"h":1.6},{"d":280.9,"h":1.45},{"d":281.1,"h":1.4},{"d":281.3,"h":1.3},{"d":281.5,"h":1.35},{"d":281.7,"h":1.2},{"d":281.9,"h":1.15},{"d":282.1,"h":1.05},{"d":282.3,"h":1.1},{"d":282.5,"h":1.0},{"d":282.7,"h":0.95},{"d":282.9,"h":1.05},{"d":283.1,"h":1.0},{"d":283.3,"h":1.15},{"d":283.5,"h":1.1},{"d":283.7,"h":1.05},{"d":283.9,"h":0.95},{"d":284.1,"h":1.0},{"d":284.3,"h":0.98},{"d":284.5,"h":1.0},{"d":284.7,"h":0.95},{"d":284.9,"h":0.98},{"d":285.1,"h":0.95},{"d":285.3,"h":1.0},{"d":285.5,"h":1.0},{"d":285.7,"h":1.02},{"d":285.9,"h":1.0},{"d":286.1,"h":0.98},{"d":286.3,"h":0.95},{"d":286.5,"h":0.95},{"d":286.7,"h":1.0},{"d":286.9,"h":0.98},{"d":287.1,"h":1.0},{"d":287.3,"h":1.02},{"d":287.5,"h":1.0},{"d":287.7,"h":1.0},{"d":287.9,"h":0.95},{"d":288.1,"h":0.95},{"d":288.3,"h":0.95},{"d":288.5,"h":1.05},{"d":288.7,"h":1.4},{"d":288.85,"h":1.65},{"d":288.95,"h":1.85},{"d":289.05,"h":2.0},{"d":289.15,"h":2.2},{"d":289.25,"h":2.45},{"d":289.35,"h":2.7},{"d":289.45,"h":2.9},{"d":289.52,"h":3.2},{"d":289.58,"h":3.7},{"d":289.65,"h":4.2},{"d":289.75,"h":4.9},{"d":289.95,"h":6.1},{"d":290.05,"h":6.7},{"d":290.2,"h":7.3},{"d":290.35,"h":6.2},{"d":290.45,"h":6.4},{"d":290.55,"h":6.0},{"d":290.65,"h":5.6},{"d":290.75,"h":5.7},{"d":290.85,"h":5.3},{"d":290.95,"h":5.0},{"d":291.05,"h":4.7},{"d":291.15,"h":4.8},{"d":291.25,"h":4.3},{"d":291.35,"h":4.5},{"d":291.45,"h":4.0},{"d":291.55,"h":4.0},{"d":291.65,"h":3.8},{"d":291.75,"h":3.5},{"d":291.85,"h":3.55},{"d":291.95,"h":3.3},{"d":292.1,"h":3.15},{"d":292.3,"h":2.8},{"d":292.5,"h":2.6},{"d":292.7,"h":2.4},{"d":292.9,"h":2.2},{"d":293.1,"h":2.05},{"d":293.3,"h":1.95},{"d":293.5,"h":1.8},{"d":293.7,"h":1.85},{"d":293.9,"h":2.1},{"d":294.1,"h":2.35},{"d":294.3,"h":2.2},{"d":294.5,"h":2.5},{"d":294.7,"h":2.4},{"d":294.9,"h":2.7},{"d":295.1,"h":2.5},{"d":295.3,"h":2.8},{"d":295.45,"h":3.0},{"d":295.6,"h":2.6},{"d":295.8,"h":2.7},{"d":296.0,"h":2.6},{"d":296.2,"h":2.6},{"d":296.4,"h":2.5},{"d":296.6,"h":2.4},{"d":296.8,"h":2.4},{"d":297.0,"h":2.35},{"d":297.2,"h":2.4},{"d":297.4,"h":2.2},{"d":297.6,"h":2.3},{"d":297.8,"h":2.2},{"d":298.0,"h":2.25},{"d":298.2,"h":2.3},{"d":298.4,"h":2.5},{"d":298.55,"h":2.6},{"d":298.65,"h":3.0},{"d":298.75,"h":3.5},{"d":298.85,"h":3.9},{"d":298.95,"h":4.3},{"d":299.05,"h":4.6},{"d":299.15,"h":5.0},{"d":299.25,"h":5.5},{"d":299.45,"h":7.3},{"d":299.55,"h":8.0},{"d":299.62,"h":8.6},{"d":299.68,"h":9.2},{"d":299.72,"h":9.6},{"d":299.9,"h":9.3},{"d":299.95,"h":9.1},{"d":300.02,"h":8.8},{"d":300.08,"h":8.6},{"d":300.12,"h":8.8},{"d":300.18,"h":8.3},{"d":300.22,"h":8.5},{"d":300.28,"h":8.3},{"d":300.32,"h":8.1},{"d":300.38,"h":7.9},{"d":300.42,"h":8.2},{"d":300.48,"h":7.7},{"d":300.52,"h":7.8},{"d":300.58,"h":7.5},{"d":300.62,"h":7.6},{"d":300.68,"h":7.4},{"d":300.72,"h":7.6},{"d":300.78,"h":7.2},{"d":300.85,"h":7.4},{"d":300.95,"h":7.0},{"d":301.15,"h":6.9},{"d":301.25,"h":7.4},{"d":301.35,"h":6.9},{"d":301.45,"h":7.1},{"d":301.55,"h":6.8},{"d":301.65,"h":6.5},{"d":301.75,"h":6.2},{"d":301.85,"h":6.3},{"d":301.95,"h":6.0},{"d":302.05,"h":5.6},{"d":302.15,"h":5.4},{"d":302.25,"h":5.1},{"d":302.35,"h":4.8},{"d":302.45,"h":4.6},{"d":302.55,"h":4.4},{"d":302.65,"h":4.2},{"d":302.75,"h":4.0},{"d":302.85,"h":3.85},{"d":302.95,"h":3.7},{"d":303.05,"h":3.5},{"d":303.15,"h":3.3},{"d":303.25,"h":3.4},{"d":303.35,"h":3.1},{"d":303.45,"h":3.2},{"d":303.55,"h":3.0},{"d":303.65,"h":3.0},{"d":303.75,"h":2.9},{"d":303.85,"h":3.05},{"d":303.95,"h":3.2},{"d":304.05,"h":3.3},{"d":304.15,"h":3.4},{"d":304.25,"h":3.6},{"d":304.35,"h":3.7},{"d":304.45,"h":4.1},{"d":304.55,"h":4.6},{"d":304.65,"h":4.7},{"d":304.75,"h":4.6},{"d":304.82,"h":4.3},{"d":304.95,"h":4.3},{"d":305.05,"h":4.0},{"d":305.15,"h":4.0},{"d":305.25,"h":3.8},{"d":305.35,"h":3.8},{"d":305.45,"h":3.7},{"d":305.55,"h":3.4},{"d":305.65,"h":3.4},{"d":305.75,"h":3.3},{"d":305.85,"h":3.2},{"d":305.95,"h":3.15},{"d":306.1,"h":3.1},{"d":306.3,"h":3.0},{"d":306.5,"h":2.9},{"d":306.7,"h":2.85},{"d":306.9,"h":2.8},{"d":307.1,"h":2.75},{"d":307.3,"h":2.7},{"d":307.5,"h":2.7},{"d":307.7,"h":2.6},{"d":307.9,"h":2.6},{"d":308.1,"h":2.6},{"d":308.3,"h":2.7},{"d":308.5,"h":2.75},{"d":308.65,"h":2.9},{"d":308.8,"h":2.75},{"d":309.0,"h":2.7},{"d":309.2,"h":2.65},{"d":309.4,"h":2.6},{"d":309.6,"h":2.7},{"d":309.8,"h":3.1},{"d":310.0,"h":2.9},{"d":310.2,"h":2.6},{"d":310.4,"h":2.65},{"d":310.6,"h":2.3},{"d":310.75,"h":2.0},{"d":310.85,"h":2.0},{"d":310.95,"h":1.8},{"d":311.05,"h":1.7},{"d":311.15,"h":1.55},{"d":311.25,"h":1.4},{"d":311.35,"h":1.3},{"d":311.45,"h":1.45},{"d":311.55,"h":1.7},{"d":311.65,"h":1.75},{"d":311.75,"h":1.85},{"d":311.85,"h":1.95},{"d":311.95,"h":2.05},{"d":312.1,"h":2.2},{"d":312.3,"h":2.35},{"d":312.5,"h":2.4},{"d":312.7,"h":2.5},{"d":312.9,"h":2.65},{"d":313.1,"h":2.8},{"d":313.3,"h":3.0},{"d":313.45,"h":3.45},{"d":313.55,"h":3.75},{"d":313.65,"h":3.6},{"d":313.75,"h":3.25},{"d":313.85,"h":3.2},{"d":313.95,"h":3.1},{"d":314.1,"h":3.05},{"d":314.3,"h":3.05},{"d":314.5,"h":3.1},{"d":314.7,"h":3.0},{"d":314.9,"h":3.0},{"d":315.1,"h":2.95},{"d":315.3,"h":2.85},{"d":315.5,"h":2.75},{"d":315.7,"h":2.6},{"d":315.9,"h":2.45},{"d":316.1,"h":2.3},{"d":316.3,"h":2.2},{"d":316.5,"h":2.1},{"d":316.7,"h":2.0},{"d":316.9,"h":1.95},{"d":317.1,"h":1.95},{"d":317.3,"h":2.0},{"d":317.45,"h":1.7},{"d":317.7,"h":2.05},{"d":317.9,"h":2.0},{"d":318.1,"h":2.1},{"d":318.3,"h":2.2},{"d":318.5,"h":2.15},{"d":318.7,"h":2.4},{"d":318.9,"h":2.4},{"d":319.1,"h":2.5},{"d":319.3,"h":2.8},{"d":319.5,"h":3.0},{"d":319.7,"h":3.1},{"d":319.9,"h":3.2},{"d":320.1,"h":3.3},{"d":320.3,"h":3.5},{"d":320.5,"h":3.2},{"d":320.7,"h":3.1},{"d":320.9,"h":3.05},{"d":321.1,"h":3.0},{"d":321.3,"h":2.95},{"d":321.5,"h":3.2},{"d":321.7,"h":3.15},{"d":321.9,"h":3.4},{"d":322.0,"h":3.3},{"d":322.2,"h":3.05},{"d":322.4,"h":3.0},{"d":322.6,"h":2.9},{"d":322.8,"h":2.85},{"d":323.0,"h":2.8},{"d":323.2,"h":2.5},{"d":323.4,"h":2.35},{"d":323.55,"h":2.1},{"d":323.65,"h":1.9},{"d":323.75,"h":1.7},{"d":323.85,"h":1.55},{"d":323.95,"h":1.7},{"d":324.1,"h":2.05},{"d":324.3,"h":2.35},{"d":324.5,"h":2.35},{"d":324.7,"h":2.3},{"d":324.9,"h":2.3},{"d":325.1,"h":2.25},{"d":325.3,"h":2.15},{"d":325.5,"h":2.15},{"d":325.7,"h":2.1},{"d":325.9,"h":2.0},{"d":326.1,"h":1.95},{"d":326.3,"h":1.85},{"d":326.5,"h":1.8},{"d":326.7,"h":1.9},{"d":326.9,"h":2.2},{"d":327.1,"h":2.45},{"d":327.3,"h":2.7},{"d":327.45,"h":3.0},{"d":327.55,"h":3.4},{"d":327.62,"h":3.8},{"d":327.72,"h":3.6},{"d":327.85,"h":3.2},{"d":327.95,"h":3.15},{"d":328.1,"h":3.05},{"d":328.3,"h":2.9},{"d":328.5,"h":2.75},{"d":328.7,"h":2.4},{"d":328.9,"h":2.2},{"d":329.1,"h":2.25},{"d":329.3,"h":2.2},{"d":329.5,"h":2.15},{"d":329.7,"h":2.5},{"d":329.85,"h":3.0},{"d":329.95,"h":3.35},{"d":330.05,"h":4.2},{"d":330.15,"h":5.0},{"d":330.32,"h":4.6},{"d":330.4,"h":4.0},{"d":330.5,"h":3.95},{"d":330.6,"h":3.85},{"d":330.7,"h":3.75},{"d":330.8,"h":3.65},{"d":330.9,"h":3.55},{"d":331.0,"h":3.45},{"d":331.2,"h":3.05},{"d":331.4,"h":3.0},{"d":331.6,"h":2.85},{"d":331.8,"h":2.5},{"d":332.0,"h":2.5},{"d":332.2,"h":2.4},{"d":332.4,"h":2.35},{"d":332.6,"h":2.3},{"d":332.8,"h":2.25},{"d":333.0,"h":2.3},{"d":333.2,"h":2.45},{"d":333.4,"h":2.85},{"d":333.6,"h":2.8},{"d":333.8,"h":2.75},{"d":334.0,"h":2.65},{"d":334.2,"h":2.5},{"d":334.4,"h":2.4},{"d":334.6,"h":2.3},{"d":334.8,"h":2.25},{"d":335.0,"h":2.15},{"d":335.2,"h":2.05},{"d":335.4,"h":2.0},{"d":335.6,"h":1.95},{"d":335.8,"h":1.95},{"d":336.0,"h":1.95},{"d":336.2,"h":2.05},{"d":336.4,"h":2.1},{"d":336.6,"h":2.3},{"d":336.8,"h":2.35},{"d":337.0,"h":2.05},{"d":337.2,"h":2.1},{"d":337.35,"h":2.55},{"d":337.45,"h":3.0},{"d":337.55,"h":3.35},{"d":337.65,"h":3.6},{"d":337.75,"h":3.5},{"d":337.82,"h":3.3},{"d":337.95,"h":3.55},{"d":338.1,"h":3.3},{"d":338.3,"h":3.1},{"d":338.5,"h":3.15},{"d":338.7,"h":3.1},{"d":338.9,"h":2.8},{"d":339.1,"h":2.55},{"d":339.3,"h":2.5},{"d":339.5,"h":2.4},{"d":339.7,"h":2.1},{"d":339.9,"h":1.95},{"d":340.1,"h":2.0},{"d":340.3,"h":1.95},{"d":340.5,"h":2.2},{"d":340.65,"h":2.5},{"d":340.75,"h":2.55},{"d":340.85,"h":2.85},{"d":340.95,"h":2.75},{"d":341.05,"h":3.1},{"d":341.15,"h":3.45},{"d":341.25,"h":3.8},{"d":341.35,"h":4.1},{"d":341.45,"h":4.35},{"d":341.62,"h":4.6},{"d":341.7,"h":4.4},{"d":341.8,"h":3.8},{"d":341.9,"h":3.75},{"d":342.0,"h":3.6},{"d":342.1,"h":3.4},{"d":342.2,"h":3.2},{"d":342.3,"h":2.9},{"d":342.5,"h":2.7},{"d":342.7,"h":2.45},{"d":342.9,"h":2.4},{"d":343.1,"h":2.3},{"d":343.3,"h":2.15},{"d":343.5,"h":2.05},{"d":343.7,"h":2.0},{"d":343.9,"h":1.85},{"d":344.1,"h":1.8},{"d":344.3,"h":1.7},{"d":344.5,"h":1.65},{"d":344.7,"h":1.65},{"d":344.9,"h":1.85},{"d":345.1,"h":1.95},{"d":345.3,"h":2.0},{"d":345.5,"h":2.15},{"d":345.7,"h":2.25},{"d":345.9,"h":2.4},{"d":346.1,"h":2.5},{"d":346.3,"h":2.65},{"d":346.5,"h":2.55},{"d":346.7,"h":2.5},{"d":346.9,"h":2.4},{"d":347.05,"h":2.6}
],
"pts":[
{"d":218.1,"h":1.8,"c":4.2},{"d":218.45,"h":2.33,"c":5.3},{"d":219.69,"h":3.25,"c":6.8},{"d":219.74,"h":3.16,"c":6.7},{"d":219.69,"h":3.01,"c":6.6},{"d":219.95,"h":3.84,"c":8.5},{"d":219.95,"h":4.26,"c":8.7},{"d":220.83,"h":5.2,"c":12.8},{"d":221.41,"h":3.03,"c":6.6},{"d":222.46,"h":1.48,"c":4.3},{"d":222.86,"h":1.19,"c":2.6},{"d":224.97,"h":0.74,"c":1.8},{"d":225.24,"h":0.83,"c":2.0},{"d":227.88,"h":0.97,"c":2.2},{"d":230.12,"h":1.14,"c":2.7},{"d":230.52,"h":1.21,"c":2.9},{"d":231.13,"h":1.57,"c":3.9},{"d":239.23,"h":0.92,"c":2.0},
{"d":240.42,"h":1.8,"c":4.3},{"d":241.48,"h":1.34,"c":3.1},{"d":241.96,"h":1.07,"c":2.5},{"d":242.67,"h":1.36,"c":3.2},{"d":243.07,"h":1.41,"c":3.3},{"d":244.12,"h":1.94,"c":4.5},{"d":246.0,"h":2.29,"c":5.3},{"d":246.37,"h":2.13,"c":5.2},{"d":247.24,"h":1.86,"c":4.3},{"d":247.34,"h":2.08,"c":5.0},{"d":248.03,"h":2.13,"c":5.1},{"d":249.67,"h":2.29,"c":5.4},{"d":250.14,"h":2.74,"c":5.8},{"d":250.94,"h":1.94,"c":4.3},{"d":251.25,"h":1.56,"c":3.8},{"d":253.5,"h":1.32,"c":3.0},{"d":254.42,"h":0.92,"c":2.1},{"d":255.22,"h":1.16,"c":2.3},{"d":255.35,"h":1.13,"c":2.4},{"d":257.67,"h":1.49,"c":3.8},{"d":258.25,"h":2.58,"c":5.7},{"d":258.52,"h":2.92,"c":6.0},{"d":259.26,"h":2.63,"c":5.8},{"d":258.97,"h":2.08,"c":5.0},{"d":259.65,"h":3.17,"c":7.2},{"d":260.63,"h":3.92,"c":8.0},{"d":260.9,"h":4.46,"c":9.0},{"d":261.03,"h":4.05,"c":9.8},{"d":261.11,"h":3.39,"c":8.1},
{"d":262.79,"h":2.37,"c":5.2},{"d":263.21,"h":1.76,"c":4.2},{"d":263.32,"h":1.65,"c":4.0},{"d":265.78,"h":1.02,"c":2.0},{"d":266.97,"h":1.09,"c":2.6},{"d":267.41,"h":1.64,"c":3.9},{"d":269.29,"h":2.37,"c":5.3},{"d":269.95,"h":2.03,"c":4.5},{"d":271.27,"h":1.66,"c":3.9},{"d":273.25,"h":1.9,"c":5.0},{"d":276.74,"h":1.31,"c":2.9},{"d":277.27,"h":1.26,"c":2.8},{"d":277.35,"h":1.12,"c":2.4},{"d":278.01,"h":1.44,"c":4.2},{"d":279.83,"h":1.99,"c":4.5},{"d":279.91,"h":1.85,"c":4.4},{"d":280.78,"h":1.54,"c":4.0},{"d":282.63,"h":0.97,"c":2.2},
{"d":282.69,"h":0.96,"c":2.1},{"d":283.61,"h":1.03,"c":2.3},{"d":283.88,"h":0.87,"c":2.0},{"d":286.38,"h":0.96,"c":2.2},{"d":287.7,"h":1.02,"c":2.3},{"d":288.36,"h":0.96,"c":2.1},{"d":288.95,"h":1.51,"c":3.5},{"d":290.27,"h":6.27,"c":13.6},{"d":290.61,"h":5.65,"c":11.8},{"d":290.5,"h":5.6,"c":11.6},{"d":290.87,"h":4.89,"c":10.5},{"d":290.87,"h":4.67,"c":10.3},{"d":291.27,"h":3.73,"c":8.0},{"d":291.46,"h":3.46,"c":7.8},{"d":294.57,"h":2.37,"c":5.3},{"d":296.02,"h":2.52,"c":5.8},{"d":296.1,"h":2.48,"c":5.7},{"d":296.95,"h":2.17,"c":5.2},{"d":296.69,"h":2.15,"c":5.1},{"d":299.01,"h":3.55,"c":7.8},{"d":298.98,"h":3.25,"c":6.8},{"d":299.91,"h":9.19,"c":20.7},{"d":300.38,"h":8.05,"c":18.8},{"d":300.07,"h":7.37,"c":15.6},{"d":301.65,"h":6.91,"c":14.8},{"d":301.1,"h":6.05,"c":13.0},{"d":303.29,"h":3.44,"c":7.2},{"d":303.69,"h":3.22,"c":6.8},{"d":303.69,"h":2.98,"c":6.5},
{"d":305.19,"h":3.73,"c":9.0},{"d":306.37,"h":2.9,"c":6.0},{"d":307.64,"h":2.41,"c":5.2},{"d":308.96,"h":2.87,"c":6.1},{"d":309.15,"h":2.63,"c":6.0},{"d":309.28,"h":2.37,"c":5.4},{"d":310.2,"h":2.95,"c":6.2},{"d":310.2,"h":2.79,"c":6.0},{"d":310.89,"h":2.08,"c":4.2},{"d":312.19,"h":2.15,"c":5.0},{"d":312.74,"h":2.69,"c":5.8},{"d":313.06,"h":2.84,"c":7.0},{"d":313.8,"h":3.34,"c":7.0},{"d":313.59,"h":3.08,"c":6.8},{"d":314.77,"h":3.16,"c":6.6},{"d":315.88,"h":3.12,"c":8.0},{"d":316.09,"h":2.37,"c":5.1},{"d":316.75,"h":1.99,"c":4.0},{"d":316.75,"h":1.88,"c":4.0},{"d":317.76,"h":1.9,"c":4.0},{"d":318.74,"h":1.9,"c":4.0},{"d":318.21,"h":2.33,"c":5.1},{"d":319.08,"h":2.08,"c":4.6},{"d":320.32,"h":3.18,"c":7.0},{"d":321.56,"h":3.0,"c":7.0},
{"d":327.93,"h":3.54,"c":8.0},{"d":329.75,"h":1.94,"c":4.2},{"d":330.3,"h":4.53,"c":9.8},{"d":330.17,"h":4.37,"c":9.6},{"d":330.67,"h":3.62,"c":8.3},{"d":336.17,"h":2.48,"c":5.1},{"d":336.04,"h":2.11,"c":4.8},{"d":335.51,"h":2.01,"c":4.5},{"d":335.59,"h":1.82,"c":4.2},{"d":337.04,"h":1.87,"c":4.2},{"d":339.73,"h":2.16,"c":4.8},{"d":340.0,"h":2.04,"c":4.6},{"d":340.18,"h":1.64,"c":3.2},{"d":340.74,"h":2.35,"c":5.6},{"d":341.19,"h":2.05,"c":4.5},{"d":341.13,"h":1.87,"c":4.2},{"d":341.58,"h":4.29,"c":10.0},{"d":341.45,"h":3.84,"c":8.4},{"d":342.51,"h":2.53,"c":5.3},{"d":344.94,"h":1.86,"c":4.0}
]
},
"layer":[
{"data":{"name":"hs"},
 "mark":{"type":"circle","size":56,"color":"black","opacity":1},
 "encoding":{
  "x":{"field":"d","type":"quantitative","scale":{"domain":[218,347.1],"nice":false,"zero":false},
       "axis":{"orient":"bottom","values":[220,240,260,280,300,320,340],"grid":true,"gridColor":"#dcdcdc","gridDash":[2,2],"domain":false,"tickSize":-18,"tickColor":"#555555","tickWidth":1.5,"labelFontSize":36,"labelColor":"black","labelPadding":31,"title":"Day of Year 2010","titleFontSize":37,"titleFontWeight":"normal","titleColor":"black","titlePadding":8}},
  "y":{"field":"h","type":"quantitative","scale":{"domain":[0,12],"nice":false,"zero":false},
       "axis":{"orient":"left","values":[0,2,4,6,8,10,12],"grid":true,"gridColor":"#dcdcdc","gridDash":[2,2],"domain":false,"tickSize":-18,"tickColor":"#555555","tickWidth":1.5,"labelFontSize":36,"labelColor":"black","labelPadding":25,"title":"Hₘ₀ [m]","titleFontSize":37,"titleFontWeight":"normal","titleColor":"black","titlePadding":5}}
 }},
{"data":{"name":"pts"},
 "mark":{"type":"circle","size":300,"opacity":1},
 "encoding":{
  "x":{"field":"d","type":"quantitative","scale":{"domain":[218,347.1],"nice":false,"zero":false},
       "axis":{"orient":"top","values":[220,240,260,280,300,320,340],"grid":false,"domain":false,"labels":false,"tickSize":-18,"tickColor":"#555555","tickWidth":1.5,"title":null}},
  "y":{"field":"h","type":"quantitative","scale":{"domain":[0,12],"nice":false,"zero":false},
       "axis":{"orient":"right","values":[0,2,4,6,8,10,12],"grid":false,"domain":false,"labels":false,"tickSize":-18,"tickColor":"#555555","tickWidth":1.5,"title":null}},
  "color":{"field":"c","type":"quantitative",
       "scale":{"domain":[1.58,3.975,8.766,13.556,18.347,20.742],"range":["#00008f","#0000ff","#00ffff","#ffff00","#ff0000","#800000"],"interpolate":"rgb"},
       "legend":{"orient":"right","offset":28,"padding":0,"title":null,"gradientLength":1053,"gradientThickness":38,"gradientStrokeColor":"#555555","gradientStrokeWidth":1,"values":[1.58,3.709,5.838,7.967,10.096,12.225,14.354,16.484,18.613,20.742],"format":".3f","labelFontSize":36,"labelColor":"black","labelOffset":4,"labelBaseline":"middle","labelOverlap":false}}
 }}
],
"resolve":{"axis":{"x":"independent","y":"independent"}}
}
